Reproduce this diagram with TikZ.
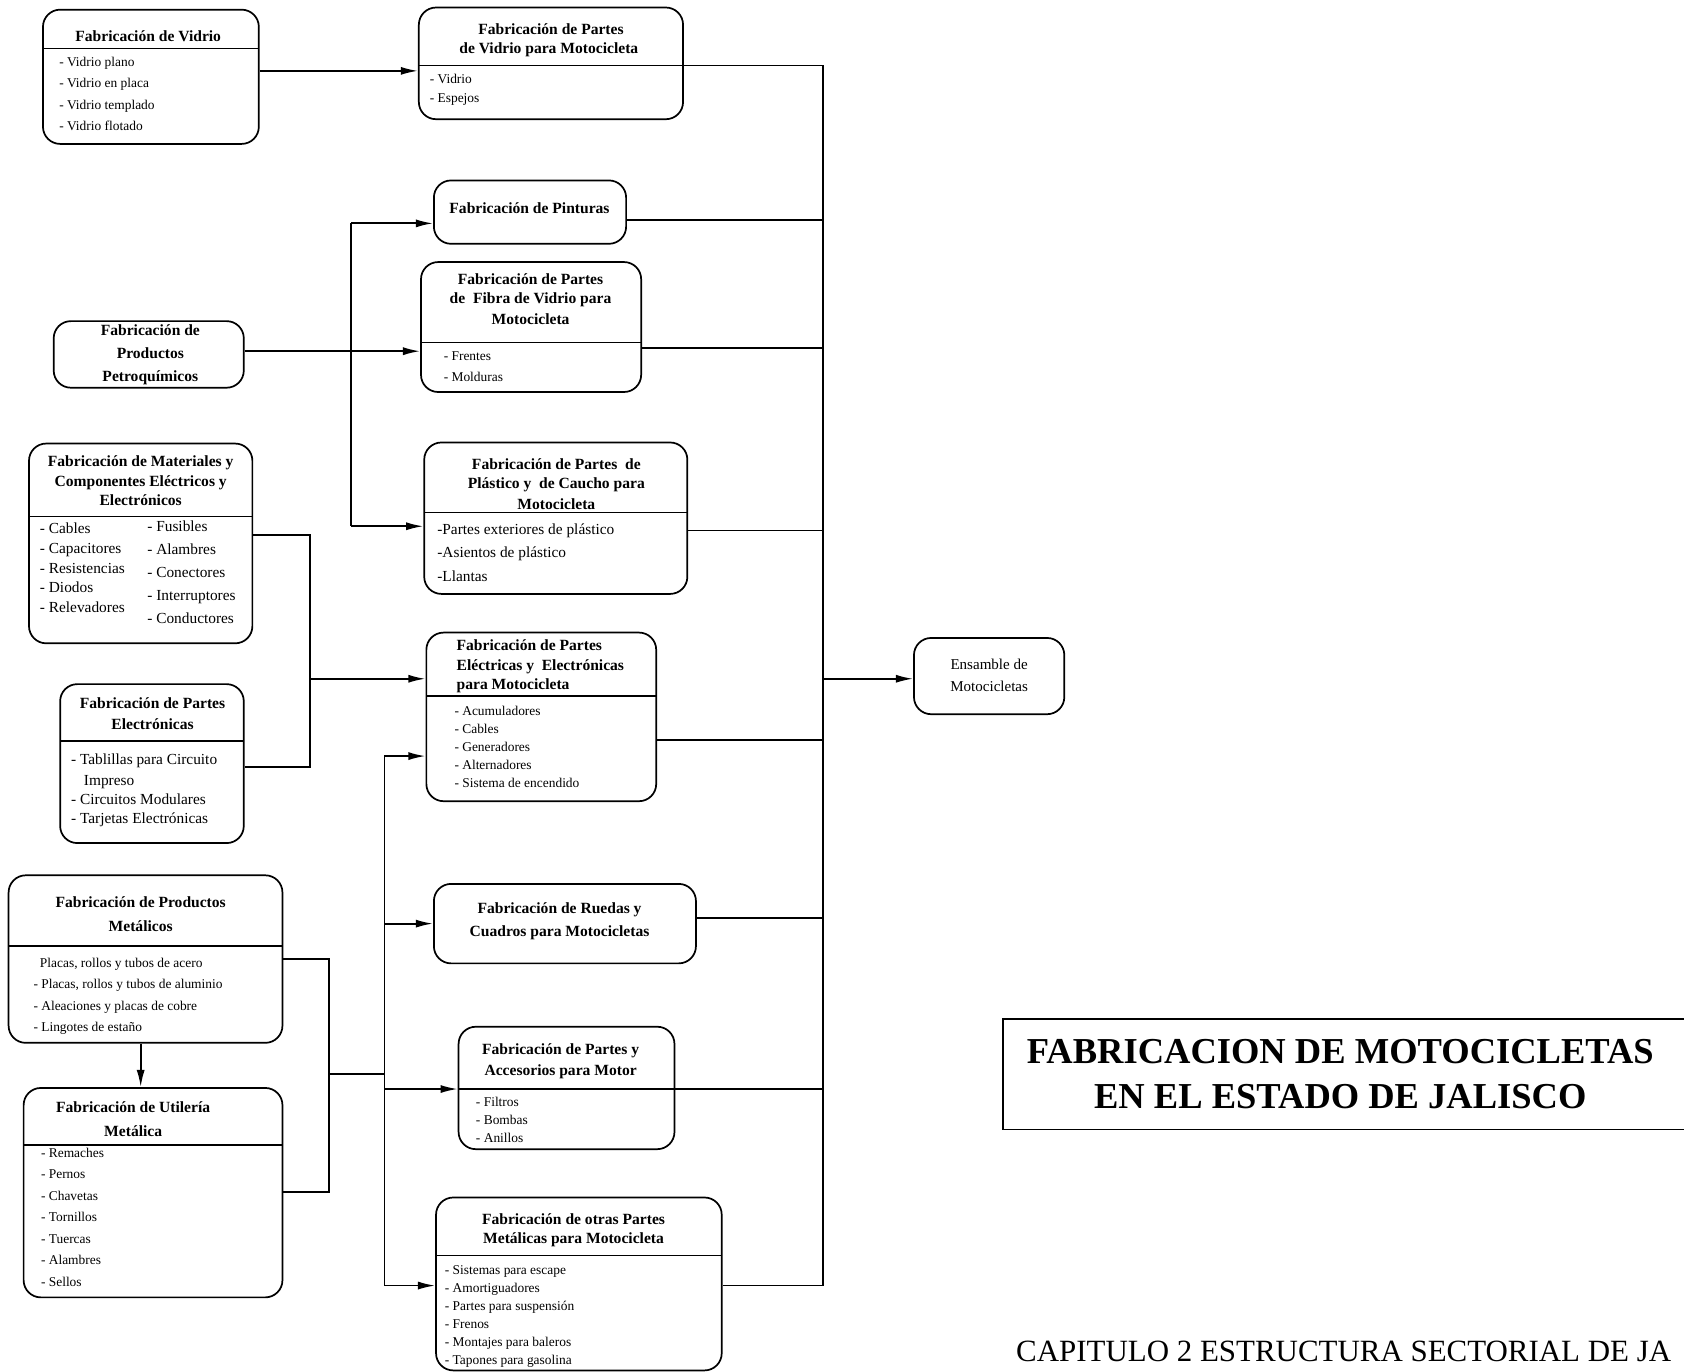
\documentclass[tikz,border=0pt]{standalone}
\usepackage{fontspec}
\setmainfont{Liberation Serif}
\usetikzlibrary{arrows.meta}

% rounded panel from its corner coordinates: name, x1, y1, x2, y2
\newcommand{\panel}[5]{%
  \node[box, minimum width={#4-#2}, minimum height={#5-#3}] (#1) at ({(#2+#4)/2},{(#3+#5)/2}) {};}
% horizontal divider inside a panel: x1, x2, y
\newcommand{\divline}[3]{\draw[sep] (#1,#3) -- (#2,#3);}
% bold heading line: name, centre x, y
\newcommand{\phead}[4]{\node[ttl] (#1) at (#2,#3+5) {#4};}

\begin{document}
\begin{tikzpicture}[x=1pt,y=-1pt,
  box/.style={draw, line width=1.6pt, rounded corners=16pt, inner sep=0pt},
  sep/.style={line width=1.4pt},
  wire/.style={line width=1.7pt},
  arr/.style={wire, -{Latex[length=16pt,width=7.5pt]}},
  ttl/.style={font=\fontsize{14.5}{17}\selectfont\bfseries, anchor=base, inner sep=0pt},
  itm/.style={font=\fontsize{12.5}{15}\selectfont, anchor=base west, inner sep=0pt},
  itmL/.style={itm, font=\fontsize{14.3}{17}\selectfont},
]
\useasboundingbox (0,0) rectangle (1568,1277);

% ---------- panels ----------
\panel{A}{40}{9}{241}{134}
\panel{B}{390}{7}{636}{111}
\panel{C}{404}{168}{583}{227}
\panel{D}{392}{244}{597}{365}
\panel{E}{50}{299}{227}{361}
\panel{F}{395}{412}{640}{553}
\panel{G}{27}{413}{235}{599}
\panel{H}{56}{637}{227}{785}
\panel{I}{397}{589}{611}{746}
\panel{J}{851}{594}{991}{665}
\panel{K}{8}{815}{263}{971}
\panel{L}{22}{1013}{263}{1208}
\panel{M}{404}{823}{648}{897}
\panel{N}{427}{956}{628}{1070}
\panel{O}{406}{1115}{672}{1276}

\divline{40}{241}{45}
\divline{390}{636}{61}
\divline{392}{597}{319}
\divline{395}{640}{477}
\divline{27}{235}{481}
\divline{56}{227}{690}
\divline{397}{611}{648}
\divline{8}{263}{881}
\divline{22}{263}{1066}
\divline{427}{628}{1014}
\divline{406}{672}{1169}

% ---------- headings ----------
\phead{A-h}{138}{34}{Fabricación de Vidrio}
\phead{B-h1}{513}{27}{Fabricación de Partes}
\phead{B-h2}{511}{45}{de Vidrio para Motocicleta}
\phead{C-h}{493}{194}{Fabricación de Pinturas}
\phead{D-h1}{494}{260}{Fabricación de Partes}
\phead{D-h2}{494}{278}{de\ \ Fibra de Vidrio para}
\phead{D-h3}{494}{297}{Motocicleta}
\phead{E-h1}{140}{307}{Fabricación de}
\phead{E-h2}{140}{329}{Productos}
\phead{E-h3}{140}{350}{Petroquímicos}
\phead{F-h1}{518}{432}{Fabricación de Partes\ \ de}
\phead{F-h2}{518}{450}{Plástico y\ \ de Caucho para}
\phead{F-h3}{518}{469}{Motocicleta}
\phead{G-h1}{131}{429}{Fabricación de Materiales y}
\phead{G-h2}{131}{448}{Componentes Eléctricos y}
\phead{G-h3}{131}{466}{Electrónicos}
\phead{H-h1}{142}{655}{Fabricación de Partes}
\phead{H-h2}{142}{674}{Electrónicas}
\node[ttl, anchor=base west] (I-h1) at (425,601+5) {Fabricación de Partes};
\node[ttl, anchor=base west] (I-h2) at (425,619+5) {Eléctricas y\ \ Electrónicas};
\node[ttl, anchor=base west] (I-h3) at (425,637+5) {para Motocicleta};
\node[font=\fontsize{14}{17}\selectfont, anchor=base, inner sep=0pt] (J-t1) at (921,618+5) {Ensamble de};
\node[font=\fontsize{14}{17}\selectfont, anchor=base, inner sep=0pt] (J-t2) at (921,639+5) {Motocicletas};
\phead{K-h1}{131}{840}{Fabricación de Productos}
\phead{K-h2}{131}{862}{Metálicos}
\phead{L-h1}{124}{1031}{Fabricación de Utilería}
\phead{L-h2}{124}{1053}{Metálica}
\phead{M-h1}{521}{846}{Fabricación de Ruedas y}
\phead{M-h2}{521}{867}{Cuadros para Motocicletas}
\phead{N-h1}{522}{977}{Fabricación de Partes y}
\phead{N-h2}{522}{996}{Accesorios para Motor}
\phead{O-h1}{534}{1135}{Fabricación de otras Partes}
\phead{O-h2}{534}{1153}{Metálicas para Motocicleta}

% ---------- item lists ----------
\foreach \t [count=\i from 0] in {- Vidrio plano, - Vidrio en placa, - Vidrio templado, - Vidrio flotado}
  \node[itm] (A-\i) at (55,57+4.5+20*\i) {\t};
\foreach \t [count=\i from 0] in {- Vidrio, - Espejos}
  \node[itm] (B-\i) at (400,73+4.5+18*\i) {\t};
\foreach \t [count=\i from 0] in {- Frentes, - Molduras}
  \node[itm] (D-\i) at (413,331+4.5+20*\i) {\t};
\foreach \t [count=\i from 0] in {-Partes exteriores de plástico, -Asientos de plástico, -Llantas}
  \node[itmL] (F-\i) at (407,493+5+21.5*\i) {\t};
\foreach \t [count=\i from 0] in {- Cables, - Capacitores, - Resistencias, - Diodos, - Relevadores}
  \node[itmL] (G-a\i) at (37,492+5+18.3*\i) {\t};
\foreach \t [count=\i from 0] in {- Fusibles, - Alambres, - Conectores, - Interruptores, - Conductores}
  \node[itmL] (G-b\i) at (137,490+5+21.3*\i) {\t};
\node[itmL] (H-0) at (66,707+5) {- Tablillas para Circuito};
\node[itmL] (H-1) at (78,726+5) {Impreso};
\node[itmL] (H-2) at (66,744+5) {- Circuitos Modulares};
\node[itmL] (H-3) at (66,762+5) {- Tarjetas Electrónicas};
\foreach \t [count=\i from 0] in {- Acumuladores, - Cables, - Generadores, - Alternadores, - Sistema de encendido}
  \node[itm] (I-\i) at (423,662+4.5+16.75*\i) {\t};
\node[itm] (K-0) at (37,896+4.5) {Placas, rollos y tubos de acero};
\foreach \t [count=\i from 1] in {{- Placas, rollos y tubos de aluminio}, - Aleaciones y placas de cobre, - Lingotes de estaño}
  \node[itm] (K-\i) at (31,896+4.5+20*\i) {\t};
\foreach \t [count=\i from 0] in {- Remaches, - Pernos, - Chavetas, - Tornillos, - Tuercas, - Alambres, - Sellos}
  \node[itm] (L-\i) at (38,1073+4.5+20*\i) {\t};
\foreach \t [count=\i from 0] in {- Filtros, - Bombas, - Anillos}
  \node[itm] (N-\i) at (443,1026+4.5+16.5*\i) {\t};
\foreach \t [count=\i from 0] in {- Sistemas para escape, - Amortiguadores, - Partes para suspensión, - Frenos, - Montajes para baleros, - Tapones para gasolina}
  \node[itm] (O-\i) at (414,1182+4.5+16.8*\i) {\t};

% ---------- connector rows ----------
\coordinate (yAB) at (0,66);
\coordinate (yED) at (0,327);
\coordinate (yC) at (0,208);
\coordinate (yF) at (0,490);
\coordinate (yGI) at (0,632);
\coordinate (yG) at (0,498);
\coordinate (yH) at (0,714);
\coordinate (yI) at (0,704);
\coordinate (yM) at (0,860);
\coordinate (yK) at (0,893);
\coordinate (yKL) at (0,1110);
\coordinate (yN) at (0,1014);
\coordinate (yO) at (0,1197);
\coordinate (oC) at (0,205);
\coordinate (oD) at (0,324);
\coordinate (oF) at (0,494);
\coordinate (oI) at (0,689);
\coordinate (oM) at (0,855);
\coordinate (oN) at (0,1014);
\coordinate (xKL) at (131,0);

% glass
\draw[arr] (A.east |- yAB) -- (B.west |- yAB);
% petrochemicals
\coordinate (pj) at (327,327);
\draw[arr] (E.east |- yED) -- (D.west |- yED);
\draw[wire] (pj |- yC) -- (pj |- yF);
\draw[arr] (pj |- yC) -- (C.west |- yC);
\draw[arr] (pj |- yF) -- (F.west |- yF);
% electrical materials and electronic parts
\coordinate (ej) at (289,632);
\draw[wire] (G.east |- yG) -- (ej |- yG) -- (ej |- yH) -- (H.east |- yH);
\draw[arr] (ej) -- (I.west |- ej);
% metal products and metal fittings
\coordinate (mj) at (306,1000);
\coordinate (mb) at (358,1000);
\draw[arr] (xKL |- K.south) -- (xKL |- L.north);
\draw[wire] (K.east |- yK) -- (mj |- yK) -- (mj |- yKL) -- (L.east |- yKL);
\draw[wire] (mj) -- (mb);
\draw[wire] (mb |- yI) -- (mb |- yO);
\draw[arr] (mb |- yI) -- (I.west |- yI);
\draw[arr] (mb |- yM) -- (M.west |- yM);
\draw[arr] (mb |- yN) -- (N.west |- yN);
\draw[arr] (mb |- yO) -- (O.west |- yO);

% assembly bus
\coordinate (busT) at (766,61);
\coordinate (busB) at (766,1197);
\draw[wire] (B.east |- busT) -- (busT) -- (busB) -- (O.east |- busB);
\draw[wire] (C.east |- oC) -- (busT |- oC);
\draw[wire] (D.east |- oD) -- (busT |- oD);
\draw[wire] (F.east |- oF) -- (busT |- oF);
\draw[wire] (I.east |- oI) -- (busT |- oI);
\draw[wire] (M.east |- oM) -- (busT |- oM);
\draw[wire] (N.east |- oN) -- (busT |- oN);
\draw[arr] (busT |- yGI) -- (J.west |- yGI);

% ---------- title ----------
\node[draw, line width=1.5pt, inner sep=0pt, minimum width=700pt, minimum height=103pt, anchor=north west] (title) at (933,948) {};
\node[font=\fontsize{34}{40}\selectfont\bfseries, anchor=base, inner sep=0pt] (title-1) at (1248,979+11) {FABRICACION DE MOTOCICLETAS};
\node[font=\fontsize{34}{40}\selectfont\bfseries, anchor=base, inner sep=0pt] (title-2) at (1248,1021+11) {EN EL ESTADO DE JALISCO};
\node[font=\fontsize{28.8}{34}\selectfont, anchor=base west, inner sep=0pt] (chapter) at (946,1258+10) {CAPITULO 2 ESTRUCTURA SECTORIAL DE JA};
\end{tikzpicture}
\end{document}
